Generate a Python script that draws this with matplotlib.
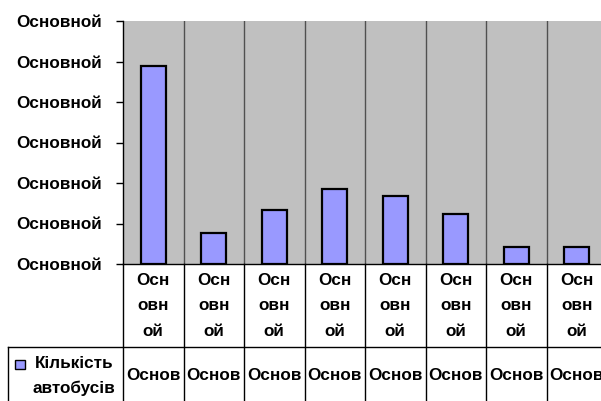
import matplotlib.pyplot as plt
from matplotlib.lines import Line2D
from matplotlib.patches import Rectangle
import numpy as np

# data (y axis 0..60, tick labels all "Основной")
bus_counts = [48.9, 7.6, 13.4, 18.5, 16.7, 12.4, 4.3, 4.3]
x_labels = ['Осн\nовн\nой'] * 8
y_ticks = [0, 10, 20, 30, 40, 50, 60]
y_tick_labels = ['Основной'] * 7
table_values = ['Основ'] * 8
series_name = 'Кількість\nавтобусів'

W, H = 601, 401
font = ['Liberation Sans', 'DejaVu Sans']
fsize = 12.3
bar_color = '#9999FF'

fig = plt.figure(figsize=(W / 100, H / 100), dpi=100)


def fx(px):
    return px / W


def fy(py):
    return 1 - py / H


left, right, top, bottom = 123, 607, 21, 264
ax = fig.add_axes([fx(left), fy(bottom), fx(right - left), (bottom - top) / H])
ax.set_facecolor('#C0C0C0')

x = np.arange(len(bus_counts)) + 0.5
ax.bar(x, bus_counts, width=0.41, color=bar_color, edgecolor='black',
       linewidth=1.6, zorder=3)

ax.set_xlim(0, 8)
ax.set_ylim(0, 60)
for b in range(1, 8):
    ax.axvline(b, color='#505050', linewidth=1, zorder=1)

ax.set_yticks(y_ticks)
ax.set_yticklabels(y_tick_labels, fontfamily=font, fontweight='bold', fontsize=fsize)
ax.tick_params(axis='y', length=5, width=1, pad=10, direction='out')
ax.set_xticks([])
for s in ['top', 'right']:
    ax.spines[s].set_visible(False)
ax.spines['left'].set_linewidth(1)
ax.spines['bottom'].set_linewidth(1)

# data table under the chart
col_w = (right - left) / 8
row_line = 346.5
for i in range(9):
    xp = left + i * col_w
    fig.add_artist(Line2D([fx(xp), fx(xp)], [fy(bottom), fy(H)], color='black', lw=1))
fig.add_artist(Line2D([fx(8), fx(W)], [fy(row_line), fy(row_line)], color='black', lw=1))
fig.add_artist(Line2D([fx(8), fx(8)], [fy(row_line), fy(H)], color='black', lw=1))

for i in range(8):
    cx = left + (i + 0.5) * col_w
    fig.text(fx(cx), fy(306), x_labels[i], ha='center', va='center',
             fontfamily=font, fontweight='bold', fontsize=fsize, linespacing=1.84)
    fig.text(fx(cx), fy(376), table_values[i], ha='center', va='center',
             fontfamily=font, fontweight='bold', fontsize=fsize)

fig.add_artist(Rectangle((fx(15), fy(369)), 10 / W, 9 / H, facecolor=bar_color,
                         edgecolor='black', linewidth=1))
fig.text(fx(74), fy(376), series_name, ha='center', va='center',
         fontfamily=font, fontweight='bold', fontsize=fsize, linespacing=1.7)

fig.savefig('out.png', dpi=100)
